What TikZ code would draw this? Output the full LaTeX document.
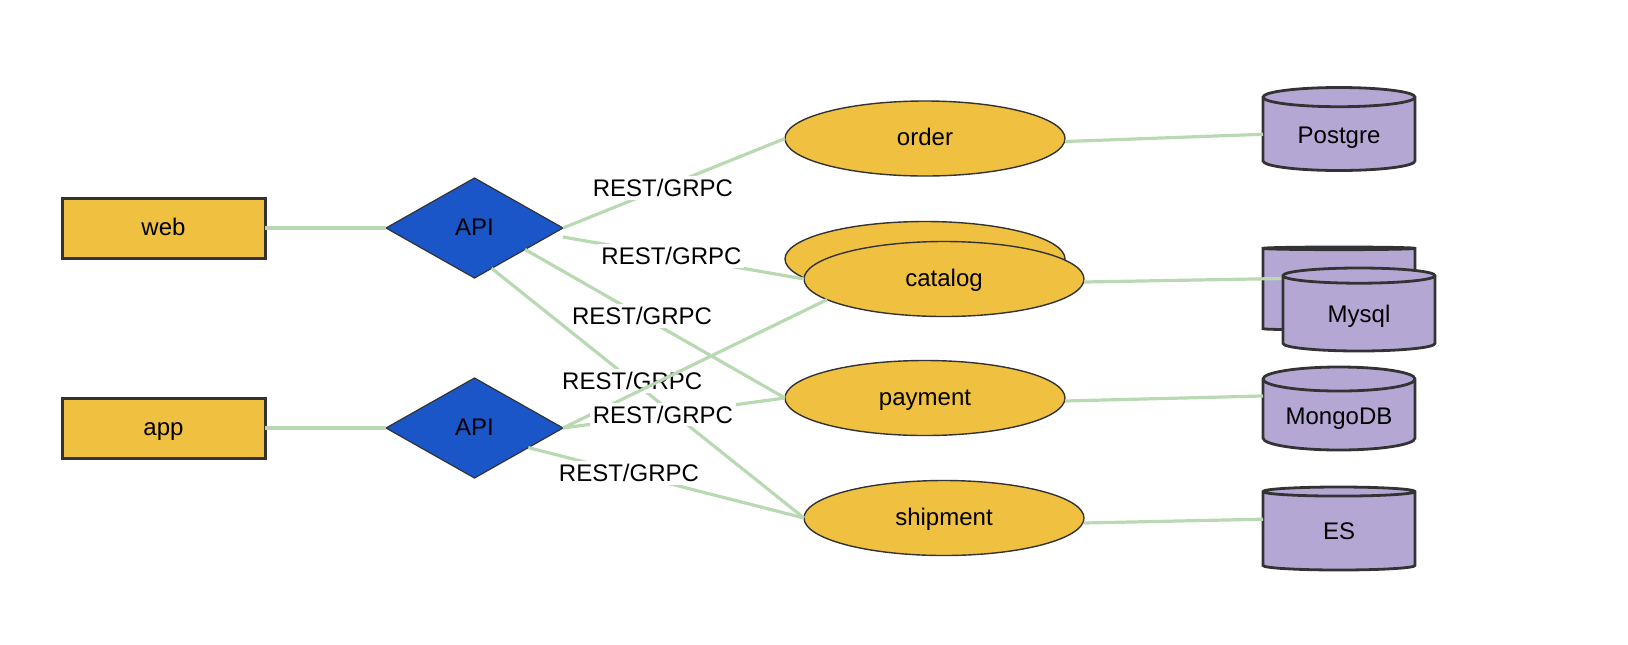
\documentclass[tikz,border=0pt]{standalone}
\usepackage{fontspec}
\setmainfont{Liberation Sans}
\usetikzlibrary{shapes.geometric}
\definecolor{groc}{RGB}{240,192,65}
\definecolor{blau}{RGB}{26,86,200}
\definecolor{lila}{RGB}{180,167,212}
\definecolor{verd}{RGB}{185,217,178}
\definecolor{vora}{RGB}{51,51,51}

\begin{document}
\begin{tikzpicture}[x=0.5pt, y=-0.5pt,
    txt/.style={font=\fontsize{12}{14}\selectfont,
        text height=0.7em, text depth=0pt},
    bloc/.style={txt, draw=vora, line width=1.5pt, fill=groc,
        minimum width=101.5pt, minimum height=30pt, outer sep=0pt},
    rombe/.style={txt, diamond, draw=vora, line width=0.6pt, fill=blau,
        minimum width=88.5pt, minimum height=50pt, inner sep=0pt,
        aspect=2, outer sep=0pt},
    servei/.style={txt, ellipse, draw=vora, line width=0.7pt, fill=groc,
        minimum width=140pt, minimum height=37.5pt, inner sep=0pt,
        outer sep=0pt},
    bd/.style={txt, cylinder, shape border rotate=90, aspect=0.2,
        draw=vora, line width=1.4pt, fill=lila, anchor=shape center,
        minimum width=76pt, minimum height=41.5pt, outer sep=0pt},
    enllac/.style={draw=verd, line width=1.6pt},
    lbl/.style={fill=white, inner sep=1.5pt, pos=0.45,
        font=\fontsize{12}{14}\selectfont}
    ]
    \useasboundingbox (0,0) rectangle (1628,644);

    \node[bloc] (web) at (163.5,228) {web};
    \node[bloc] (app) at (163.5,428) {app};
    \node[rombe] (api1) at (474.5,228) {API};
    \node[rombe] (api2) at (474.5,428) {API};

    \node[servei] (order) at (925,138.5) {order};
    \node[servei] (catb) at (925,259) {};
    \node[servei] (cat) at (944,279) {catalog};
    \node[servei] (pay) at (925,398) {payment};
    \node[servei] (ship) at (944,518) {shipment};

    \node[bd] (pg) at (1339,129) {Postgre};
    \node[bd] (mysqlb) at (1339,288.5) {};
    \node[bd] (mongo) at (1339,408.5) {MongoDB};
    \node[bd] (es) at (1339,528.5) {ES};

    \draw[enllac] (web) -- (api1);
    \draw[enllac] (app) -- (api2);

    \draw[enllac] (api1.east) -- node[lbl] {REST/GRPC} (order.west);
    \draw[enllac] ([yshift=-4.5pt]api1.east) -- node[lbl] {REST/GRPC} (cat.west);
    \draw[enllac] (api1.-23) -- node[lbl] {REST/GRPC} (pay.west);
    \draw[enllac] (api1.-67) -- node[lbl] {REST/GRPC} (ship.west);
    \draw[enllac] (api2.east) -- (cat.190);
    \draw[enllac] (api2.east) -- node[lbl] {REST/GRPC} (pay.west);
    \draw[enllac] (api2.-20) -- node[lbl, pos=0.365] {REST/GRPC} (ship.west);

    \draw[enllac] ([yshift=-1.5pt]order.east) -- ([yshift=1.1pt]pg.west);
    \draw[enllac] ([yshift=-1.5pt]cat.east) -- ([yshift=5.5pt]mysqlb.shape center);
    \draw[enllac] ([yshift=-1.5pt]pay.east) -- ([yshift=10.85pt]mongo.west);
    \draw[enllac] ([yshift=-2.5pt]ship.east) -- ([yshift=6.6pt]es.west);

    \node[bd] (mysql) at (1359,309.5) {Mysql};
\end{tikzpicture}
\end{document}
